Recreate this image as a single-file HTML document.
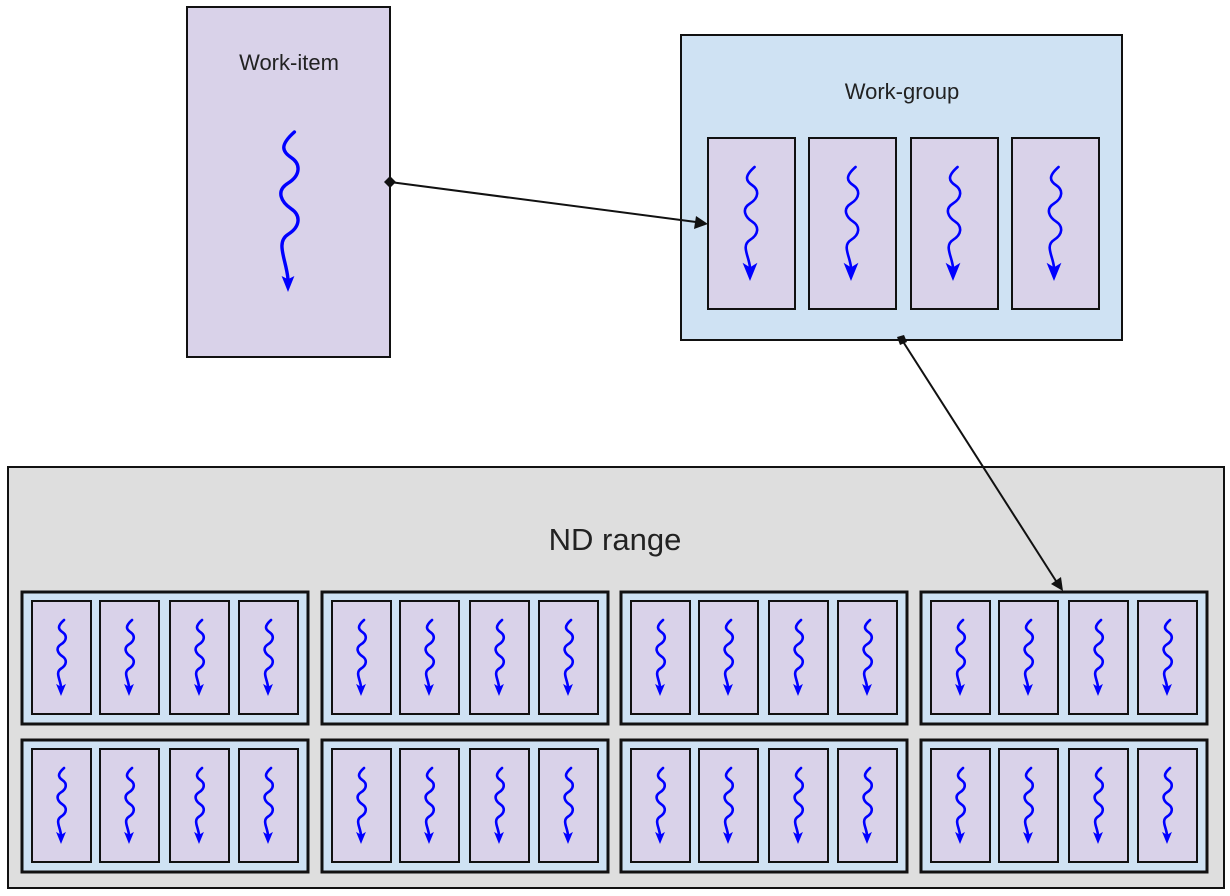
<!DOCTYPE html>
<html><head><meta charset="utf-8"><style>html,body{margin:0;padding:0;background:#fff}svg{display:block}text{font-family:"Liberation Sans",sans-serif;fill:#222}</style></head>
<body>
<svg width="1230" height="896" viewBox="0 0 1230 896" xmlns="http://www.w3.org/2000/svg">
<defs>
<g id="sq">
<path d="M4,0 C-5,8 -4,12 2,16 S8,27 0,32 S-4,44 2,48 S8,59 0,64 S-1,78 0,88" fill="none" stroke="#0000ff" stroke-width="2.6" vector-effect="non-scaling-stroke" stroke-linecap="round"/>
<polygon points="-6.5,84 0,100 6.5,84 0,88" fill="#0000ff"/>
</g>
<g id="it">
<rect x="0" y="0" width="59" height="113" fill="#d9d2e9" stroke="#111" stroke-width="2"/>
<use href="#sq" transform="translate(29,19) scale(0.76)"/>
</g>
<g id="grp">
<rect x="0" y="0" width="286" height="132" fill="#cfe2f3" stroke="#111" stroke-width="3"/>
<use href="#it" x="10" y="9"/>
<use href="#it" x="78" y="9"/>
<use href="#it" x="148" y="9"/>
<use href="#it" x="217" y="9"/>
</g>
<g id="wgi">
<rect x="0" y="0" width="87" height="171" fill="#d9d2e9" stroke="#111" stroke-width="2"/>
<use href="#sq" transform="translate(42,29) scale(1.14)"/>
</g>
</defs>

<rect x="187" y="7" width="203" height="350" fill="#d9d2e9" stroke="#111" stroke-width="2"/>
<text x="289" y="70" font-size="22" text-anchor="middle">Work-item</text>
<g transform="translate(288,132) scale(1.6)">
<path d="M4,0 C-5,8 -4,12 2,16 S8,27 0,32 S-4,44 2,48 S8,59 0,64 S-1,80 0,92" fill="none" stroke="#0000ff" stroke-width="3.4" vector-effect="non-scaling-stroke" stroke-linecap="round"/>
<polygon points="-4,90 0,100 4,90 0,92" fill="#0000ff"/>
</g>

<rect x="681" y="35" width="441" height="305" fill="#cfe2f3" stroke="#111" stroke-width="2"/>
<text x="902" y="99" font-size="22" text-anchor="middle">Work-group</text>
<use href="#wgi" x="708" y="138"/>
<use href="#wgi" x="809" y="138"/>
<use href="#wgi" x="911" y="138"/>
<use href="#wgi" x="1012" y="138"/>

<rect x="8" y="467" width="1216" height="421" fill="#dedede" stroke="#111" stroke-width="2"/>
<text x="615" y="550" font-size="31" text-anchor="middle">ND range</text>
<use href="#grp" x="22" y="592"/>
<use href="#grp" x="322" y="592"/>
<use href="#grp" x="621" y="592"/>
<use href="#grp" x="921" y="592"/>
<use href="#grp" x="22" y="740"/>
<use href="#grp" x="322" y="740"/>
<use href="#grp" x="621" y="740"/>
<use href="#grp" x="921" y="740"/>

<line x1="390" y1="182" x2="696" y2="222" stroke="#111" stroke-width="2"/>
<polygon points="708,224 694,229 696,216" fill="#111"/>
<polygon points="390,176 396,182 390,188 384,182" fill="#111"/>
<line x1="902" y1="340" x2="1056" y2="581" stroke="#111" stroke-width="2"/>
<polygon points="1063,591 1051,584 1061,577" fill="#111"/>
<polygon points="897,337 904,335 907,342 900,345" fill="#111"/>
</svg>
</body></html>
